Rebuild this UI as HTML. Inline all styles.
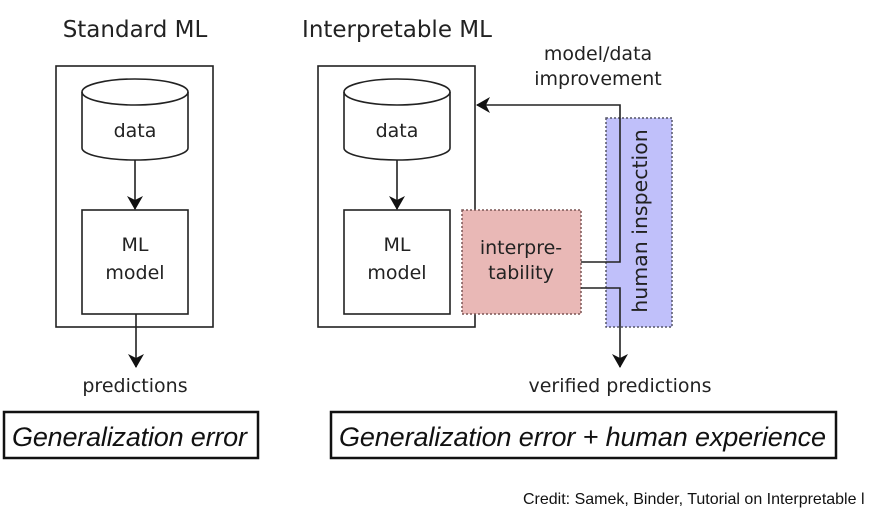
<!DOCTYPE html>
<html><head><style>body{margin:0;background:#fff}</style></head><body>
<svg width="886" height="518" xmlns="http://www.w3.org/2000/svg" font-family="DejaVu Sans, sans-serif" fill="none">
<defs><marker id="a" markerWidth="14" markerHeight="16" refX="13" refY="8" orient="auto" markerUnits="userSpaceOnUse"><path d="M0,0 L14,8 L0,16 L4,8 Z" fill="#111"/></marker></defs>
<g stroke="#222" stroke-width="1.6">
<rect x="56" y="66" width="157" height="261"/>
<rect x="318" y="66" width="157" height="261"/>
<path d="M82,92 V148 A53,12 0 0 0 188,148 V92"/><ellipse cx="135" cy="92" rx="53" ry="13"/>
<path d="M344,92 V148 A53,12 0 0 0 450,148 V92"/><ellipse cx="397" cy="92" rx="53" ry="13"/>
<rect x="82" y="210" width="106" height="104"/>
<rect x="344" y="210" width="106" height="104"/>
<line x1="135" y1="160" x2="135" y2="209" marker-end="url(#a)"/>
<line x1="397" y1="160" x2="397" y2="209" marker-end="url(#a)"/>
<line x1="136" y1="314" x2="136" y2="367" marker-end="url(#a)"/>
</g>
<rect x="462" y="210" width="119" height="104" fill="#e9b8b6" stroke="#7a5555" stroke-width="1.5" stroke-dasharray="2,2"/>
<rect x="606" y="118" width="66" height="209" fill="#c0c0fa" stroke="#556" stroke-width="1.5" stroke-dasharray="2,2"/>
<g stroke="#222" stroke-width="1.6">
<polyline points="581,262 620,262 620,105 477,105" marker-end="url(#a)"/>
<polyline points="581,288 620,288 620,367" marker-end="url(#a)"/>
</g>
<g fill="#222" font-size="19" text-anchor="middle">
<text x="135" y="37" font-size="23">Standard ML</text>
<text x="397" y="37" font-size="23">Interpretable ML</text>
<text x="135" y="137">data</text><text x="397" y="137">data</text>
<text x="135" y="251">ML</text><text x="135" y="279">model</text>
<text x="397" y="251">ML</text><text x="397" y="279">model</text>
<text x="521" y="254">interpre-</text><text x="521" y="279">tability</text>
<text x="598" y="60">model/data</text><text x="598" y="85">improvement</text>
<text transform="translate(647,221) rotate(-90)" font-size="20.5">human inspection</text>
<text x="135" y="392">predictions</text>
<text x="620" y="392">verified predictions</text>
</g>
<g stroke="#111" stroke-width="2.5"><rect x="4" y="412" width="254" height="46"/><rect x="331" y="412" width="505" height="46"/></g>
<g fill="#111" font-family="Liberation Sans, sans-serif" font-style="italic" font-size="27">
<text x="12" y="446" textLength="235">Generalization error</text>
<text x="339" y="446" textLength="487">Generalization error + human experience</text>
</g>
<text x="523" y="504" fill="#111" font-family="Liberation Sans, sans-serif" font-size="16">Credit: Samek, Binder, Tutorial on Interpretable l</text>
</svg>
</body></html>
